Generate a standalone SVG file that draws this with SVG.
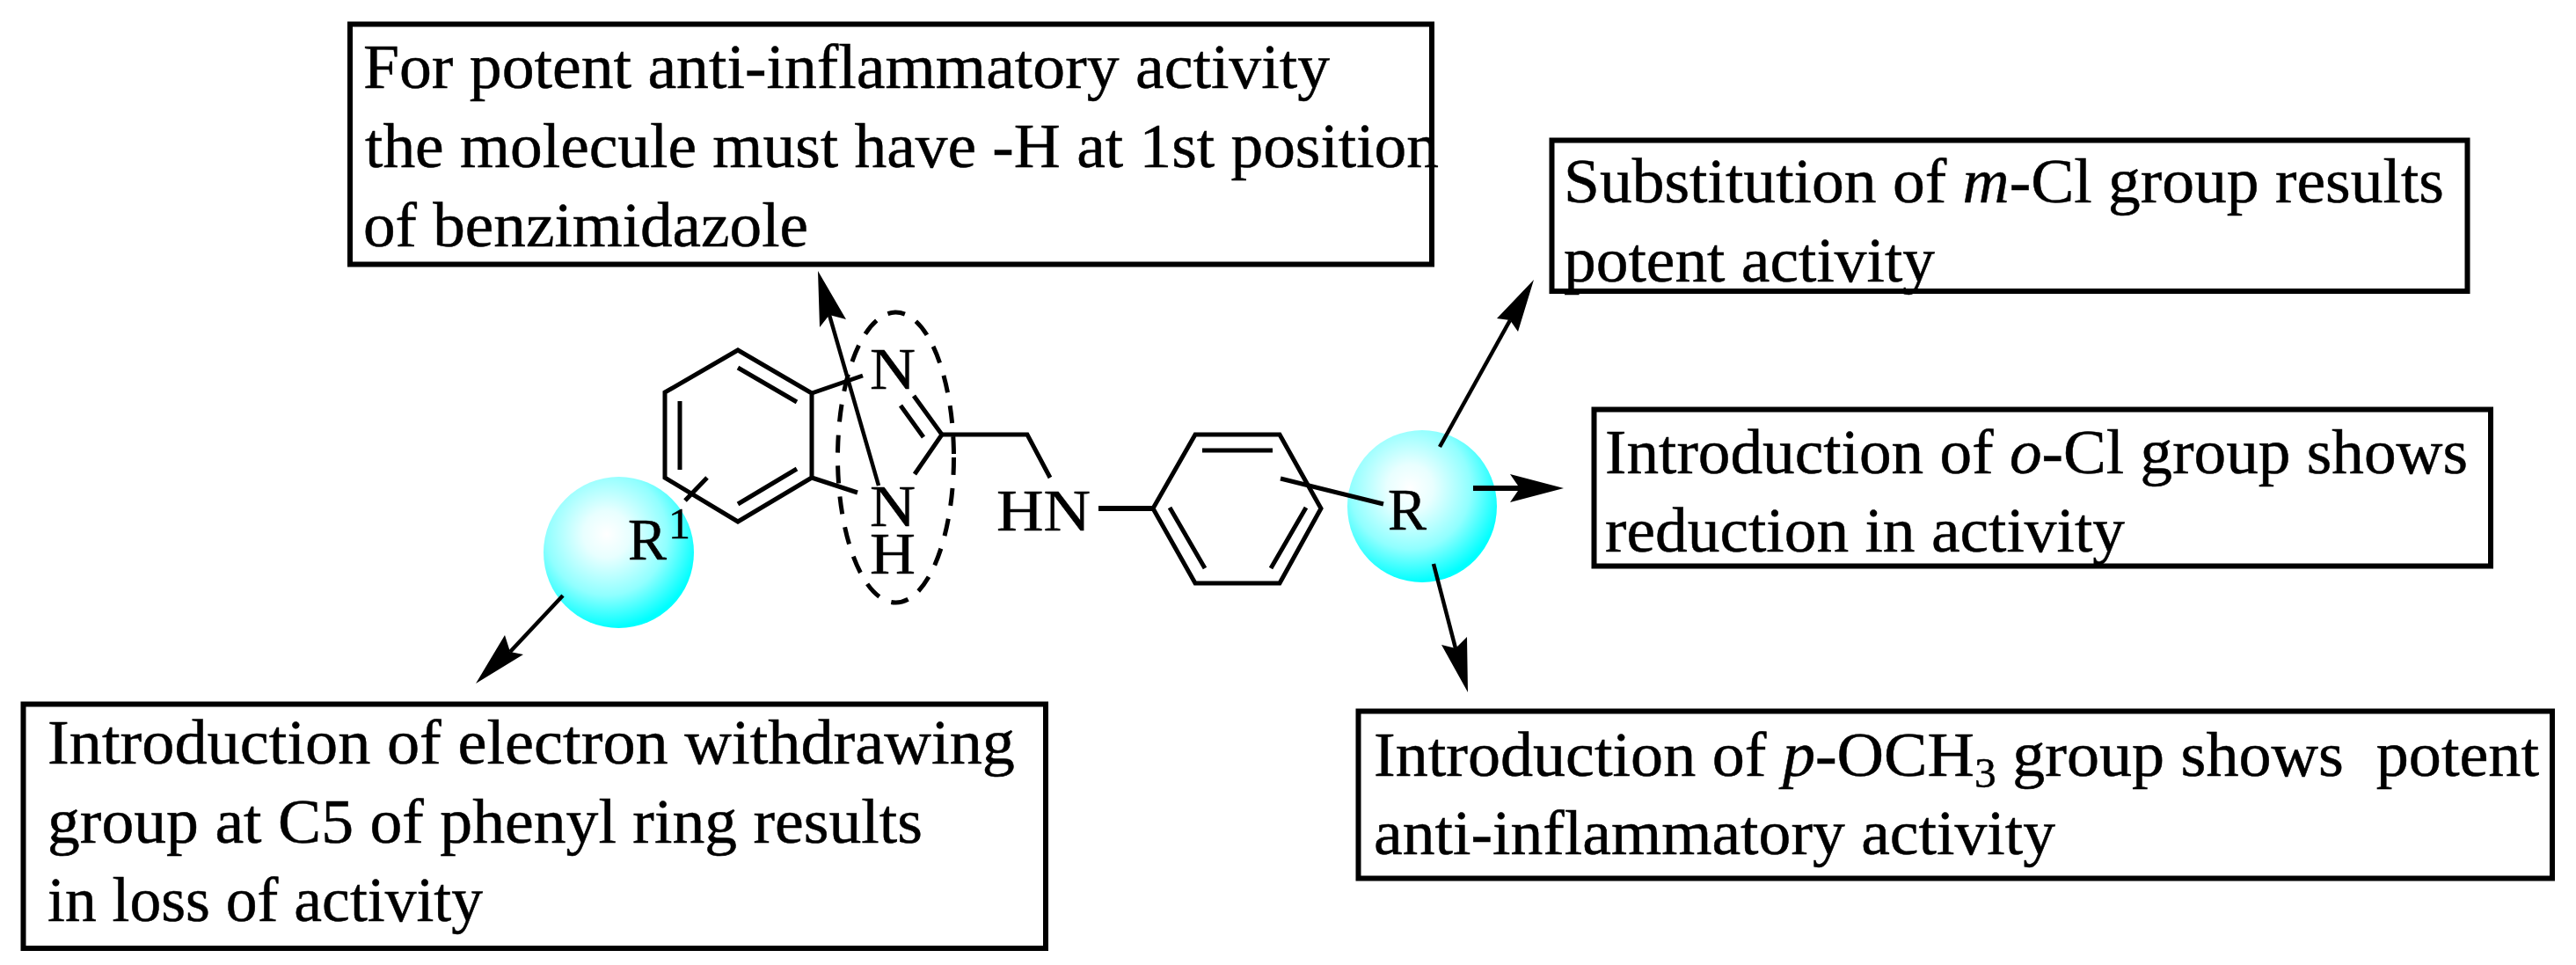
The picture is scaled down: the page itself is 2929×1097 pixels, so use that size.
<svg xmlns="http://www.w3.org/2000/svg" width="2929" height="1097" viewBox="0 0 2929 1097">
<style>
text{font-family:"Liberation Serif","Times New Roman",serif;font-size:72px;fill:#000;stroke:#000;stroke-width:.5}
.lab{font-size:68px}
.box{fill:none;stroke:#000;stroke-width:6}
.bond{fill:none;stroke:#000;stroke-width:5;stroke-linecap:butt;stroke-linejoin:miter}
.blob{fill:url(#cy)}
.dash{fill:none;stroke:#000;stroke-width:5;stroke-dasharray:20 15}
.shaft{fill:none;stroke:#000;stroke-width:4.5}
.head{fill:#000}
</style>
<defs>
<radialGradient id="cy" cx="0.42" cy="0.38" r="0.62">
<stop offset="0" stop-color="#fff"/>
<stop offset="0.25" stop-color="#e8ffff"/>
<stop offset="0.65" stop-color="#90ffff"/>
<stop offset="1" stop-color="#00ffff"/>
</radialGradient>
</defs>
<rect width="2929" height="1097" fill="#fff"/>
<g id="node-r1">
<ellipse class="blob" cx="703.5" cy="628" rx="85.5" ry="86"/>
<text class="lab" x="714" y="636" textLength="44" lengthAdjust="spacingAndGlyphs">R</text>
<text x="760" y="612" style="font-size:50px">1</text>
</g>
<g id="node-r">
<ellipse class="blob" cx="1617" cy="575.5" rx="85" ry="86.5"/>
<text class="lab" x="1578" y="602" textLength="44" lengthAdjust="spacingAndGlyphs">R</text>
</g>
<g id="node-molecule">
<path class="bond" d="M839 398L923 447V543L839 593L756 543V446Z"/>
<path class="bond" d="M839 418L906 457M773 456V534M839 573L906 533"/>
<path class="bond" d="M923 447L981 427M923 543L975 560"/>
<path class="bond" d="M1039 450L1071 494L1040 539M1024 461L1050 497"/>
<path class="bond" d="M1071 494H1168L1194 543"/>
<path class="bond" d="M1249 578H1311" style="stroke-width:6"/>
<path class="bond" d="M1311 578L1359 494H1455L1502 578L1455 663H1359Z"/>
<path class="bond" d="M1367 512H1447M1330 577L1370 646M1485 577L1445 646"/>
<path class="bond" d="M804 543L779 569M1456 544L1573 573"/>
<text class="lab" x="989" y="442" textLength="52" lengthAdjust="spacingAndGlyphs">N</text>
<text class="lab" x="989" y="598" textLength="52" lengthAdjust="spacingAndGlyphs">N</text>
<text class="lab" x="989" y="652" textLength="52" lengthAdjust="spacingAndGlyphs">H</text>
<text class="lab" x="1133" y="603" textLength="107" lengthAdjust="spacingAndGlyphs">HN</text>
<ellipse class="dash" cx="1018.5" cy="520" rx="66" ry="165"/>
</g>
<g id="node-top">
<rect class="box" x="398" y="27.5" width="1230" height="273"/>
<text x="413" y="100" textLength="1099" lengthAdjust="spacingAndGlyphs">For potent anti-inflammatory activity</text>
<text x="415" y="190" textLength="1221" lengthAdjust="spacingAndGlyphs">the molecule must have -H at 1st position</text>
<text x="413" y="280" textLength="506" lengthAdjust="spacingAndGlyphs">of benzimidazole</text>
</g>
<g id="node-meta">
<rect class="box" x="1764.5" y="159.5" width="1041" height="171.5"/>
<text x="1778" y="230" textLength="1001" lengthAdjust="spacingAndGlyphs">Substitution of <tspan font-style="italic">m</tspan>-Cl group results</text>
<text x="1778" y="320" textLength="422" lengthAdjust="spacingAndGlyphs">potent activity</text>
</g>
<g id="node-ortho">
<rect class="box" x="1812.5" y="465.5" width="1019.5" height="178"/>
<text x="1825" y="538" textLength="981" lengthAdjust="spacingAndGlyphs">Introduction of <tspan font-style="italic">o</tspan>-Cl group shows</text>
<text x="1825" y="627" textLength="591" lengthAdjust="spacingAndGlyphs">reduction in activity</text>
</g>
<g id="node-para">
<rect class="box" x="1544.5" y="808.5" width="1357.5" height="190"/>
<text x="1562" y="882" textLength="1325" lengthAdjust="spacingAndGlyphs" xml:space="preserve">Introduction of <tspan font-style="italic">p</tspan>-OCH<tspan dy="13" style="font-size:48px">3</tspan><tspan dy="-13"> group shows  potent</tspan></text>
<text x="1562" y="971" textLength="775" lengthAdjust="spacingAndGlyphs">anti-inflammatory activity</text>
</g>
<g id="node-electron">
<rect class="box" x="26.5" y="800.5" width="1162.5" height="277.5"/>
<text x="54" y="868" textLength="1100" lengthAdjust="spacingAndGlyphs">Introduction of electron withdrawing</text>
<text x="54" y="958" textLength="995" lengthAdjust="spacingAndGlyphs">group at C5 of phenyl ring results</text>
<text x="54" y="1047" textLength="495" lengthAdjust="spacingAndGlyphs">in loss of activity</text>
</g>
<g id="connectors">
<path class="shaft" d="M999 552L943 358"/>
<polygon class="head" points="930,308 962,363 943,358 932,372"/>
<path class="shaft" d="M1637 508L1717 364"/>
<polygon class="head" points="1744,318 1726,377 1717,364 1702,362"/>
<path class="shaft" d="M1675 555H1728" style="stroke-width:6"/>
<polygon class="head" points="1778,555 1717,571 1728,555 1717,539"/>
<path class="shaft" d="M1630 641L1655 737"/>
<polygon class="head" points="1669,787 1639,733 1655,737 1668,724"/>
<path class="shaft" d="M640 677L580 741"/>
<polygon class="head" points="541,777 574,722 580,741 595,744"/>
</g>
</svg>
